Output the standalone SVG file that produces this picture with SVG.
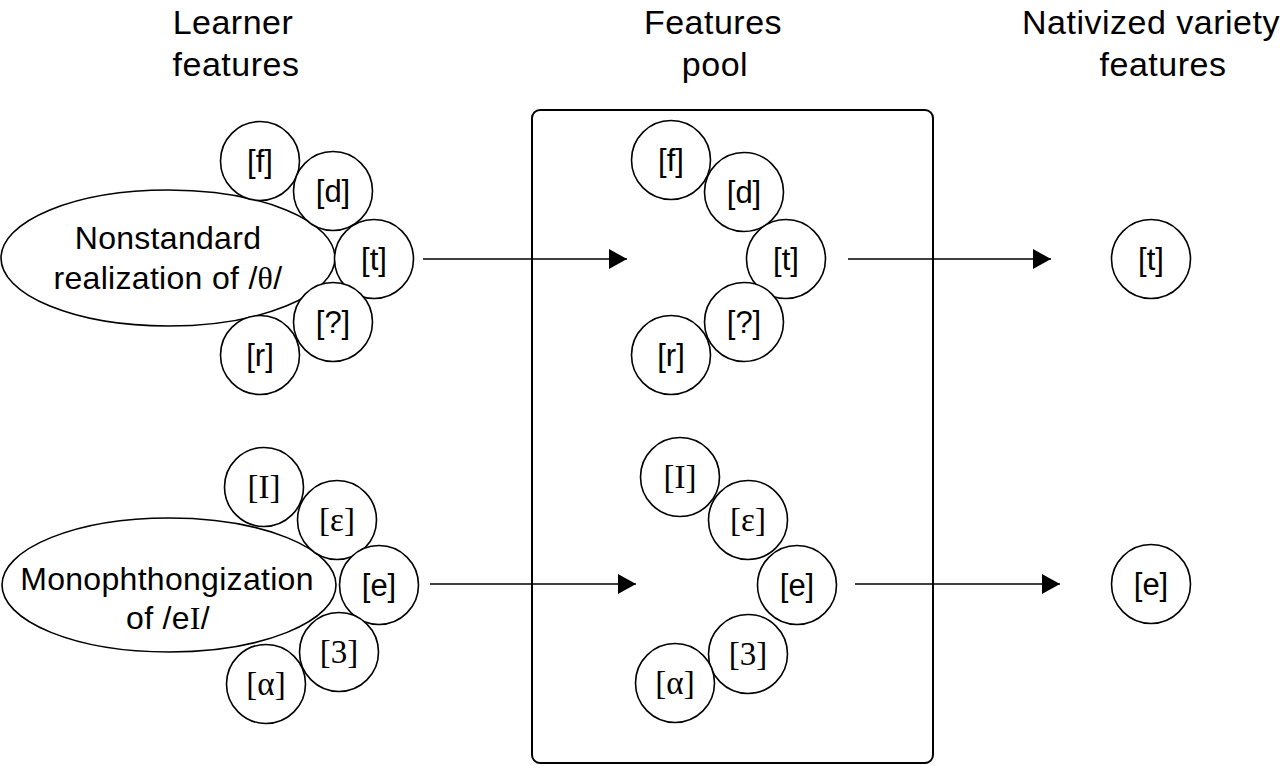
<svg xmlns="http://www.w3.org/2000/svg" width="1288" height="766" viewBox="0 0 1288 766">
<style>
.hdr{font-family:"Liberation Sans",Arial,sans-serif;font-size:34px;letter-spacing:0.5px;text-anchor:middle;fill:#000}
.lbl{font-family:"Liberation Sans",Arial,sans-serif;font-size:32px;letter-spacing:0.3px;text-anchor:middle;fill:#000}
.ph{font-family:"Liberation Sans",Arial,sans-serif;font-size:31px;text-anchor:middle;fill:#000}
.phs{font-family:"Liberation Serif","Times New Roman",serif;font-size:33px;text-anchor:middle;fill:#000}
.ser{font-family:"Liberation Serif","Times New Roman",serif}
.c{fill:#fff;stroke:#000;stroke-width:1.6}
.e{fill:#fff;stroke:#000;stroke-width:1.6}
.box{fill:none;stroke:#000;stroke-width:2}
.arr{stroke:#000;stroke-width:1.6;fill:none;marker-end:url(#ah)}
</style>
<defs>
<marker id="ah" markerUnits="userSpaceOnUse" markerWidth="18" markerHeight="20" refX="18" refY="10" orient="auto">
<path d="M0,0 L18,10 L0,20 z" fill="#000"/>
</marker>
</defs>
<rect width="1288" height="766" fill="#fff"/>

<g id="headers">
<text class="hdr" x="233" y="34">Learner</text>
<text class="hdr" x="236" y="76">features</text>
<text class="hdr" x="713" y="34">Features</text>
<text class="hdr" x="715" y="76">pool</text>
<text class="hdr" x="1151" y="34">Nativized variety</text>
<text class="hdr" x="1163" y="76">features</text>
</g>

<g id="pool-box"><rect class="box" x="532" y="110" width="401" height="653" rx="8"/></g>

<g id="connectors">
<line class="arr" x1="423" y1="259" x2="627" y2="259"/>
<line class="arr" x1="848" y1="259" x2="1051" y2="259"/>
<line class="arr" x1="430" y1="584" x2="636" y2="584"/>
<line class="arr" x1="855" y1="584" x2="1060" y2="584"/>
</g>

<g id="learner-theta">
<ellipse class="e" cx="168" cy="258" rx="167" ry="68"/>
<text class="lbl" x="168" y="249">Nonstandard</text>
<text class="lbl" x="168" y="289">realization of /<tspan class="ser">θ</tspan>/</text>
<g id="l-f"><circle class="c" cx="260" cy="161" r="39.5"/><text class="ph" x="260" y="172">[f]</text></g>
<g id="l-d"><circle class="c" cx="333" cy="191" r="39.5"/><text class="ph" x="333" y="202">[d]</text></g>
<g id="l-t"><circle class="c" cx="374" cy="259" r="39.5"/><text class="ph" x="374" y="270">[t]</text></g>
<g id="l-q"><circle class="c" cx="333" cy="322" r="39.5"/><text class="ph" x="333" y="333">[?]</text></g>
<g id="l-r"><circle class="c" cx="260" cy="355" r="39.5"/><text class="ph" x="260" y="366">[r]</text></g>
</g>

<g id="learner-ei">
<ellipse class="e" cx="169" cy="585" rx="167" ry="67"/>
<text class="lbl" x="167" y="590">Monophthongization</text>
<text class="lbl" x="168" y="629">of /e<tspan class="ser">I</tspan>/</text>
<g id="l-I"><circle class="c" cx="264" cy="487" r="39.5"/><text class="phs" x="264" y="498">[I]</text></g>
<g id="l-eps"><circle class="c" cx="337" cy="520" r="39.5"/><text class="phs" x="337" y="531">[ε]</text></g>
<g id="l-e"><circle class="c" cx="379" cy="585" r="39.5"/><text class="ph" x="379" y="596">[e]</text></g>
<g id="l-3"><circle class="c" cx="339" cy="652" r="39.5"/><text class="phs" x="339" y="663">[3]</text></g>
<g id="l-a"><circle class="c" cx="266" cy="684" r="39.5"/><text class="phs" x="266" y="695">[α]</text></g>
</g>

<g id="pool-theta">
<g id="p-f"><circle class="c" cx="671" cy="160" r="39.5"/><text class="ph" x="671" y="171">[f]</text></g>
<g id="p-d"><circle class="c" cx="744" cy="192" r="39.5"/><text class="ph" x="744" y="203">[d]</text></g>
<g id="p-t"><circle class="c" cx="786" cy="259" r="39.5"/><text class="ph" x="786" y="270">[t]</text></g>
<g id="p-q"><circle class="c" cx="744" cy="322" r="39.5"/><text class="ph" x="744" y="333">[?]</text></g>
<g id="p-r"><circle class="c" cx="671" cy="355" r="39.5"/><text class="ph" x="671" y="366">[r]</text></g>
</g>

<g id="pool-ei">
<g id="p-I"><circle class="c" cx="680" cy="477" r="39.5"/><text class="phs" x="680" y="488">[I]</text></g>
<g id="p-eps"><circle class="c" cx="748" cy="520" r="39.5"/><text class="phs" x="748" y="531">[ε]</text></g>
<g id="p-e"><circle class="c" cx="797" cy="585" r="39.5"/><text class="ph" x="797" y="596">[e]</text></g>
<g id="p-3"><circle class="c" cx="748" cy="654" r="39.5"/><text class="phs" x="748" y="665">[3]</text></g>
<g id="p-a"><circle class="c" cx="675" cy="683" r="39.5"/><text class="phs" x="675" y="694">[α]</text></g>
</g>

<g id="native-t"><circle class="c" cx="1151" cy="259" r="39.5"/><text class="ph" x="1151" y="270">[t]</text></g>
<g id="native-e"><circle class="c" cx="1151" cy="584" r="39.5"/><text class="ph" x="1151" y="595">[e]</text></g>
</svg>
